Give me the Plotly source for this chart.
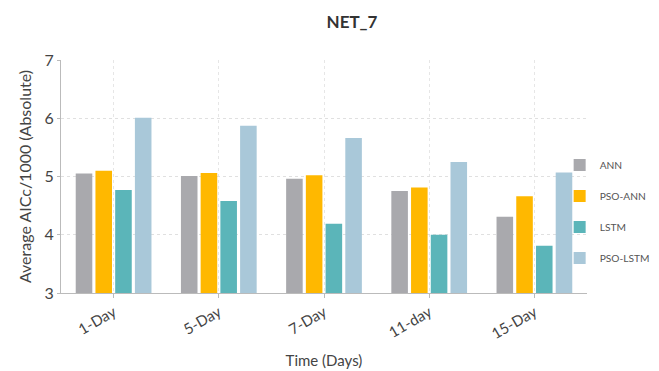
import plotly.graph_objects as go

categories = ["1-Day", "5-Day", "7-Day", "11-day", "15-Day"]
series_names = ["ANN", "PSO-ANN", "LSTM", "PSO-LSTM"]
ann = [5.05, 5.01, 4.96, 4.75, 4.31]
pso_ann = [5.10, 5.06, 5.02, 4.81, 4.66]
lstm = [4.77, 4.58, 4.19, 4.00, 3.81]
pso_lstm = [6.01, 5.87, 5.66, 5.25, 5.07]
colors = ["#a9a9ad", "#ffb800", "#5bb5b9", "#a9c8d9"]
y_ticks = [3, 4, 5, 6, 7]

FONT = "Lato"
fig = go.Figure()
for i, (name, vals) in enumerate(zip(series_names, [ann, pso_ann, lstm, pso_lstm])):
    fig.add_trace(go.Bar(x=categories, y=vals, name=name, marker_color=colors[i],
                         marker_line_width=0, legendgroup=name))

fig.update_layout(
    width=659, height=371,
    margin=dict(l=53, r=80, t=52, b=86, autoexpand=False),
    paper_bgcolor="white", plot_bgcolor="white",
    font=dict(family=FONT, color="#444"),
    title=dict(text="<b>NET_7</b>", x=0.522, xanchor="center", y=0.962, yanchor="middle",
               font=dict(size=17, color="#333", family=FONT)),
    barmode="group", bargap=0.25, bargroupgap=0.16,
    showlegend=True,
    legend=dict(x=0.948, xanchor="left", y=0.35, yanchor="middle",
                bgcolor="rgba(0,0,0,0)",
                font=dict(size=10.2, color="#555", family=FONT),
                tracegroupgap=12, itemwidth=30),
    xaxis=dict(title=dict(text="Time (Days)", font=dict(size=15, color="#444"), standoff=14),
               automargin=False,
               tickangle=-30, tickfont=dict(size=15, color="#444"),
               showline=True, linecolor="#bbb", linewidth=1,
               ticks="outside", ticklen=4, tickcolor="#bbb",
               showgrid=True, gridcolor="#e6e6e6", griddash="dot"),
    yaxis=dict(title=dict(text="Average AICc/1000 (Absolute)", font=dict(size=16, color="#444"), standoff=8),
               automargin=False,
               range=[3, 7], tickvals=y_ticks, tickfont=dict(size=16, color="#444"),
               showline=True, linecolor="#bbb", linewidth=1,
               ticks="outside", ticklen=3, tickcolor="#bbb",
               showgrid=True, gridcolor="#e0e0e0", griddash="dot", zeroline=False),
)
fig.write_html("out.html")
